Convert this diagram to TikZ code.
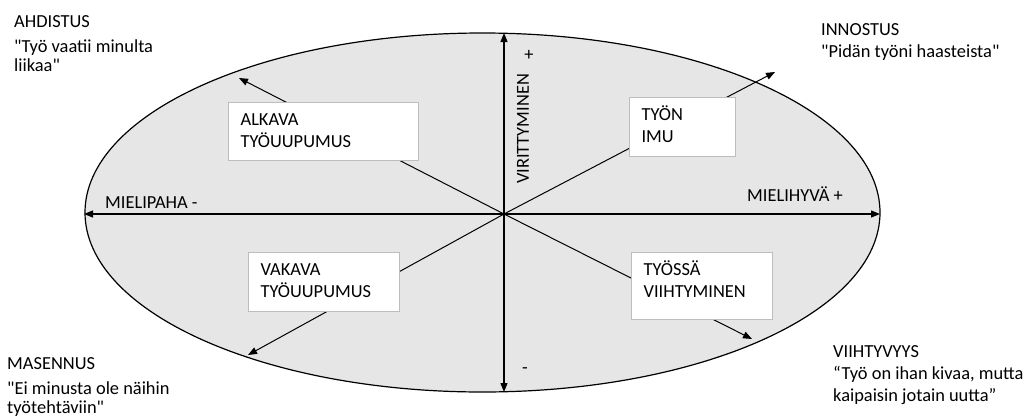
\documentclass[tikz,border=0pt]{standalone}
\usepackage{fontspec}
\setmainfont{Carlito}[Ligatures=TeXOff]
\usetikzlibrary{arrows.meta}
\definecolor{fillgray}{HTML}{E6E6E6}
\definecolor{cardgray}{HTML}{BDBDBD}
\newcommand\boxtxt[3]{\parbox[c][#1][t]{#2}{\strut #3}}
\begin{document}
\begin{tikzpicture}[x=1pt,y=-1pt,
  every node/.style={font=\fontsize{18.4}{22}\selectfont, text=black},
  axis/.style={line width=1.3pt, {Triangle[length=9pt,width=7pt]}-{Triangle[length=9pt,width=7pt]}},
  diag/.style={line width=1pt, -{Triangle[length=9pt,width=7pt]}},
  card/.style={draw=cardgray, fill=white, line width=1.2pt, inner xsep=12pt, inner ysep=7pt, anchor=north west},
  caption/.style={align=left, inner sep=0pt, anchor=north west},
  plain/.style={inner sep=0pt}]
\useasboundingbox (0,0) rectangle (1030,418);

% ellipse
\draw[fill=fillgray, line width=1.2pt] (482.5,212.5) ellipse [x radius=397.5, y radius=179.5];

% key points
\coordinate (O) at (504,214);
\coordinate (W) at (84,214);
\coordinate (E) at (880,214);
\coordinate (N) at (504,33);
\coordinate (S) at (504,392);
\coordinate (ul) at (239,78);
\coordinate (ur) at (775,72);
\coordinate (ll) at (248,355);
\coordinate (lr) at (752,339);

% diagonals
\draw[diag] (O) -- (ul);
\draw[diag] (O) -- (ur);
\draw[diag] (O) -- (ll);
\draw[diag] (O) -- (lr);

% axes
\draw[axis] (W) -- (E);
\draw[axis] (S) -- (N);

% boxes
\node[card] (alkava) at (228,102) {\boxtxt{44pt}{166pt}{ALKAVA\\TYÖUUPUMUS}};
\node[card] (imu) at (629,97) {\boxtxt{45pt}{82pt}{TYÖN\\IMU}};
\node[card] (vakava) at (248,252) {\boxtxt{45pt}{127pt}{VAKAVA\\TYÖUUPUMUS}};
\node[card] (viiht) at (631,252) {\boxtxt{53pt}{117pt}{TYÖSSÄ\\VIIHTYMINEN}};

% axis labels
\node[plain, rotate=90] (viritt) at (523,129) {VIRITTYMINEN};
\node[plain] (plus) at (529,55) {+};
\node[plain] (minus) at (525,371) {-};
\node[plain, anchor=base west] (paha) at (105,208) {MIELIPAHA -};
\node[plain, anchor=base west] (hyva) at (747,201) {MIELIHYVÄ +};

% corner captions
\node[caption] (ahdistus) at (14,12) {\strut AHDISTUS\\[3pt]"Työ vaatii minulta\\[-3pt]liikaa"};
\node[caption] (innostus) at (821,19.6) {\strut INNOSTUS\\"Pidän työni haasteista"};
\node[caption] (masennus) at (7,353.6) {\strut MASENNUS\\[3pt]"Ei minusta ole näihin\\[-3pt]työtehtäviin"};
\node[caption] (viihtyvyys) at (833,342.3) {\strut VIIHTYVYYS\\“Työ on ihan kivaa, mutta\\kaipaisin jotain uutta”};
\end{tikzpicture}
\end{document}
